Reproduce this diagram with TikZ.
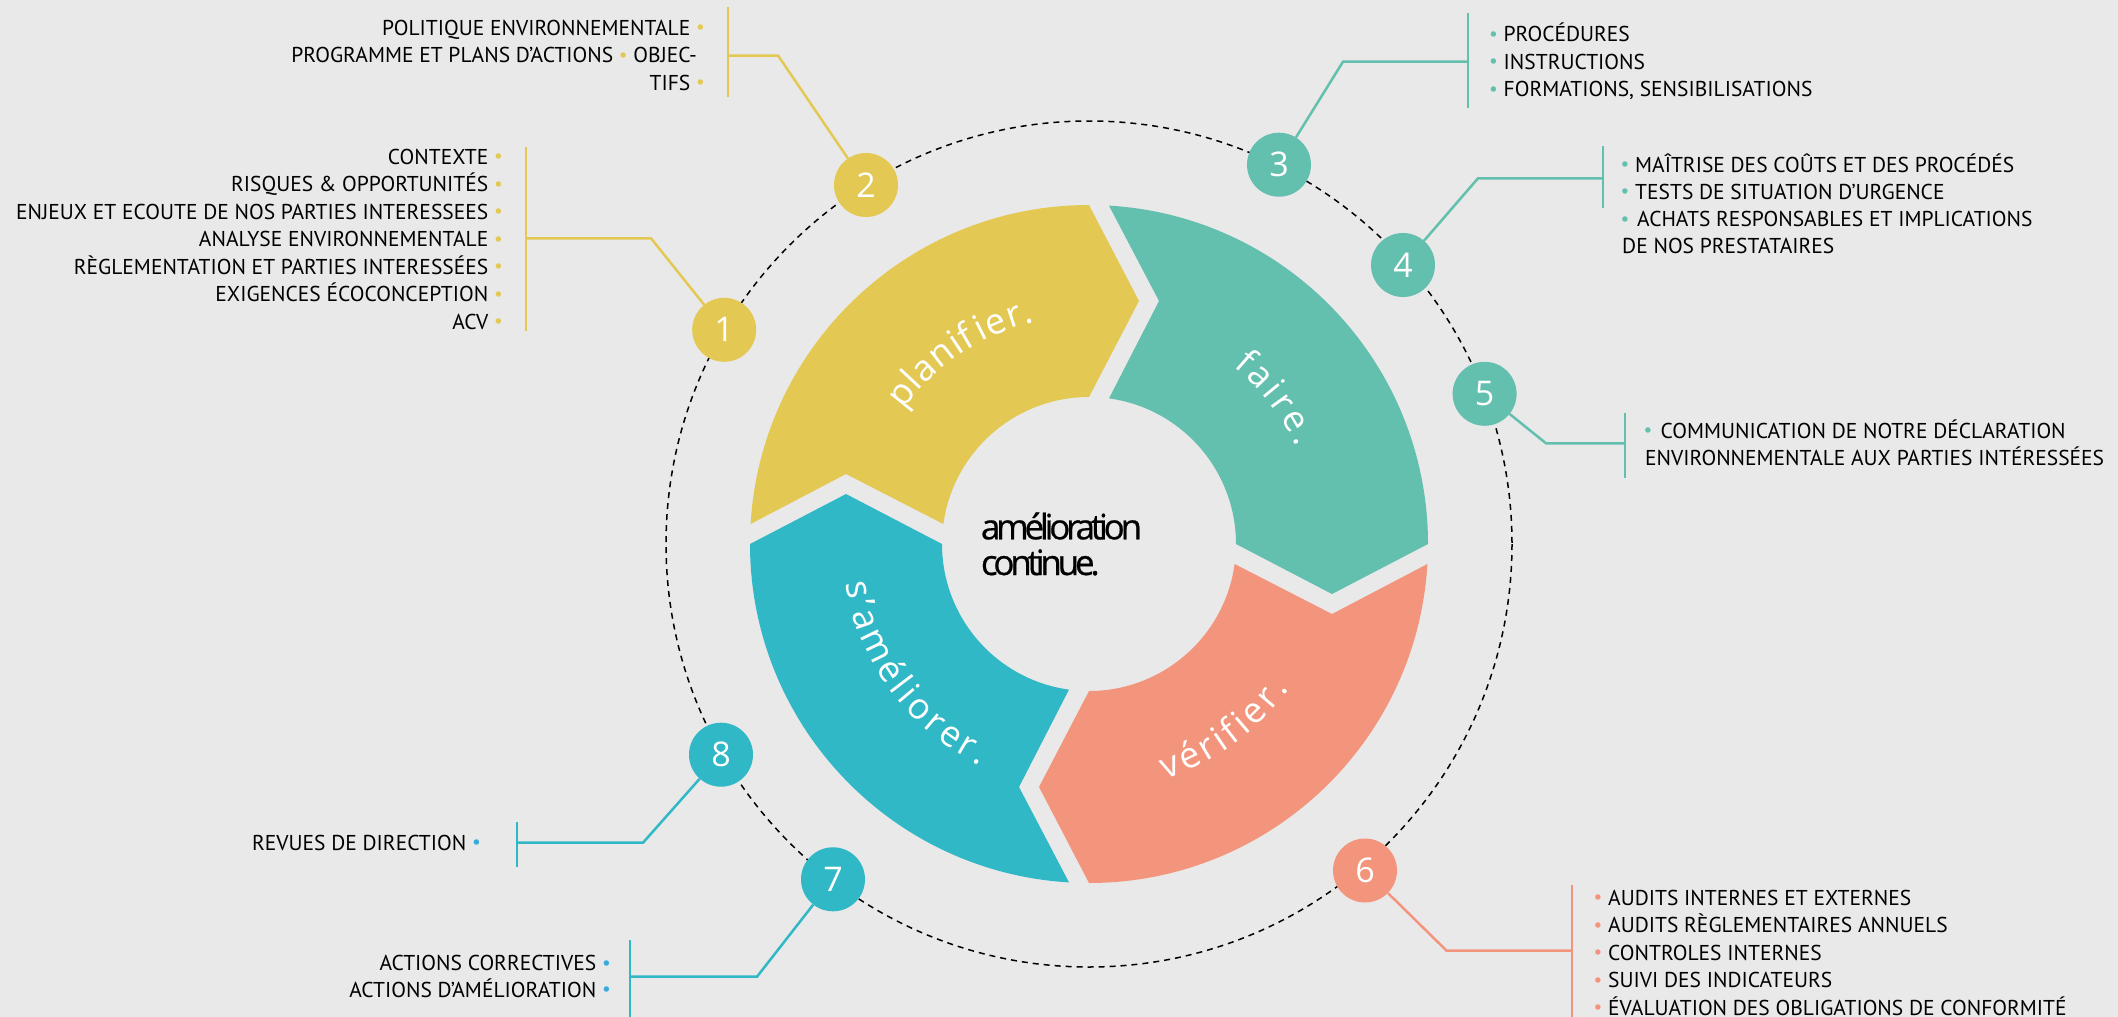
\documentclass[tikz,border=0pt]{standalone}
\usepackage{fontspec}
\setmainfont{PT Sans}
\newfontfamily\numfont{Open Sans}
\newfontfamily\segfont{Open Sans}
\newfontfamily\cenfont[LetterSpace=-12,FakeBold=0.6]{Open Sans}
\usetikzlibrary{decorations.text}
\definecolor{bg}{RGB}{233,233,233}
\definecolor{cyel}{RGB}{227,201,84}
\definecolor{cteal}{RGB}{99,191,174}
\definecolor{csal}{RGB}{243,149,125}
\definecolor{cblue}{RGB}{48,184,198}
\definecolor{cdot}{RGB}{58,170,220}
\newcommand\bl[1]{\textcolor{#1}{\raisebox{1.5pt}{\scalebox{0.9}{•}}}}
\newcommand\ks{\kern3.5pt}
\newcommand\kt{\kern1pt}
\begin{document}
\begin{tikzpicture}[x=1pt,y=-1pt,
  item/.style={inner sep=0pt, font=\fontsize{21.5}{21.5}\selectfont, text=black},
  num/.style={circle, minimum size=64pt, inner sep=0pt, text=white, font=\numfont\fontsize{34}{34}\selectfont},
  link/.style={line width=2.5pt},
  seglab/.style={decorate, decoration={text along path, text align=center, text={|\segfont\fontsize{36}{36}\selectfont\color{white}|#1}}}]
\fill[bg] (0,0) rectangle (2118,1017);
\useasboundingbox (0,0) rectangle (2118,1017);

% ring
\begin{scope}[shift={(1089,544)}, yscale=-1]
  \foreach \r/\c in {0/cyel, 90/cteal, 180/csal, 270/cblue} {
    \fill[\c, rotate=\r] (176.62:339) arc[start angle=176.62, end angle=90, radius=339]
      -- (50,243) -- (90:147) arc[start angle=90, end angle=172.18, radius=147]
      -- (-243,70) -- cycle;
  }
  \path[seglab={{p\kt}{l\kt}{a\kt}{n\kt}{i\kt}{f\kern5pt}{i\kt}{e\kt}{r\kt}{.}}] (166:229) arc[start angle=166, end angle=82, radius=229];
  \path[seglab={{f\ks}{a\ks}{i\ks}{r\ks}{e\ks}{.}}] (80:229) arc[start angle=80, end angle=-4, radius=229];
  \path[seglab={{v\ks}{é\ks}{r\ks}{i\ks}{f\ks}{i\ks}{e\ks}{r\ks}{.}}] (-96:247) arc[start angle=-96, end angle=-12, radius=247];
  \path[seglab={{s\ks}{’\ks}{a\ks}{m\ks}{é\ks}{l\ks}{i\ks}{o\ks}{r\ks}{e\ks}{r\ks}{.}}] (170:247) arc[start angle=170, end angle=263, radius=247];
\end{scope}

\node[anchor=base west, inner sep=0pt, font=\cenfont\fontsize{35}{35}\selectfont] (ct1) at (980.7,539.3) {amélioration};
\node[anchor=base west, inner sep=0pt, font=\cenfont\fontsize{35}{35}\selectfont] (ct2) at (980.7,575) {continue.};

% dashed circle
\draw[dash pattern=on 6pt off 5pt, line width=1.5pt] (1089,544) circle[radius=423];

% numbered circles
\node[num, fill=cyel]  (c1) at (724.2,329.8) {1};
\node[num, fill=cyel]  (c2) at (866,185) {2};
\node[num, fill=cteal] (c3) at (1279,164.7) {3};
\node[num, fill=cteal] (c4) at (1403,265) {4};
\node[num, fill=cteal] (c5) at (1484.6,393.8) {5};
\node[num, fill=csal]  (c6) at (1365,870.5) {6};
\node[num, fill=cblue] (c7) at (833,879.3) {7};
\node[num, fill=cblue] (c8) at (721,754.7) {8};

% connectors
\coordinate (b1t) at (526,147); \coordinate (b1b) at (526,331); \coordinate (b1m) at (526,238.3); \coordinate (e1) at (651,238.3);
\coordinate (b2t) at (728,7); \coordinate (b2b) at (728,97); \coordinate (b2m) at (728,55.5); \coordinate (e2) at (778,55.5);
\coordinate (b3t) at (1468,13); \coordinate (b3b) at (1468,108); \coordinate (b3m) at (1468,61.7); \coordinate (e3) at (1343,61.7);
\coordinate (b4t) at (1603,146); \coordinate (b4b) at (1603,208); \coordinate (b4m) at (1603,178.3); \coordinate (e4) at (1478,178.3);
\coordinate (b5t) at (1625,413); \coordinate (b5b) at (1625,478); \coordinate (b5m) at (1625,443.3); \coordinate (e5) at (1546,443.3);
\coordinate (b6t) at (1572,885); \coordinate (b6b) at (1572,1017); \coordinate (b6m) at (1572,950.7); \coordinate (e6) at (1446.6,950.7);
\coordinate (b7t) at (630,940); \coordinate (b7b) at (630,1017); \coordinate (b7m) at (630,976.7); \coordinate (e7) at (757,976.7);
\coordinate (b8t) at (517,822); \coordinate (b8b) at (517,867); \coordinate (b8m) at (517,842.7); \coordinate (e8) at (643,842.7);
\foreach \i/\c in {1/cyel,2/cyel,3/cteal,4/cteal,5/cteal,6/csal,7/cblue,8/cblue} {
  \draw[link, \c] (b\i t) -- (b\i b);
  \draw[link, \c] (b\i m) -- (e\i) -- (c\i);
}

% list 1
\foreach \t [count=\i from 0] in {CONTEXTE, RISQUES \& OPPORTUNITÉS, ENJEUX ET ECOUTE DE NOS PARTIES INTERESSEES, ANALYSE ENVIRONNEMENTALE, RÈGLEMENTATION ET PARTIES INTERESSÉES, EXIGENCES ÉCOCONCEPTION, ACV}
  \node[item, anchor=base east] (l1-\i) at (503,164+27.5*\i) {\t\ \bl{cyel}};
% list 2
\node[item, anchor=base east] (l2-1) at (705,35) {POLITIQUE ENVIRONNEMENTALE \bl{cyel}};
\node[item, anchor=base east] (l2-2) at (697,62.7) {PROGRAMME ET PLANS D’ACTIONS \bl{cyel} OBJEC-};
\node[item, anchor=base east] (l2-3) at (705,90) {TIFS \bl{cyel}};
% list 3
\foreach \t [count=\i from 0] in {PROCÉDURES, INSTRUCTIONS, {FORMATIONS, SENSIBILISATIONS}}
  \node[item, anchor=base west] (l3-\i) at (1489,41.7+27.5*\i) {\bl{cteal} \t};
% list 4
\node[item, anchor=base west] (l4-1) at (1620.5,172.3) {\bl{cteal} MAÎTRISE DES COÛTS ET DES PROCÉDÉS};
\node[item, anchor=base west] (l4-2) at (1620.5,199.3) {\bl{cteal} TESTS DE SITUATION D’URGENCE};
\node[item, anchor=base west] (l4-3) at (1620.5,226.7) {\bl{cteal}\ \kern2pt ACHATS RESPONSABLES ET IMPLICATIONS};
\node[item, anchor=base west] (l4-4) at (1622,253.3) {DE NOS PRESTATAIRES};
% list 5
\node[item, anchor=base west] (l5-1) at (1643.5,438.3) {\bl{cteal}\ \kern2.5pt COMMUNICATION DE NOTRE DÉCLARATION};
\node[item, anchor=base west] (l5-2) at (1645,465.7) {ENVIRONNEMENTALE AUX PARTIES INTÉRESSÉES};
% list 6
\foreach \t [count=\i from 0] in {AUDITS INTERNES ET EXTERNES, AUDITS RÈGLEMENTAIRES ANNUELS, CONTROLES INTERNES, SUIVI DES INDICATEURS, ÉVALUATION DES OBLIGATIONS DE CONFORMITÉ}
  \node[item, anchor=base west] (l6-\i) at (1593.5,905+27.5*\i) {\bl{csal} \t};
% list 7 and 8
\node[item, anchor=base east] (l7-1) at (611,970.7) {ACTIONS CORRECTIVES \bl{cdot}};
\node[item, anchor=base east] (l7-2) at (611,997.3) {ACTIONS D’AMÉLIORATION \bl{cdot}};
\node[item, anchor=base east] (l8-1) at (481,850) {REVUES DE DIRECTION \bl{cdot}};
\end{tikzpicture}
\end{document}
